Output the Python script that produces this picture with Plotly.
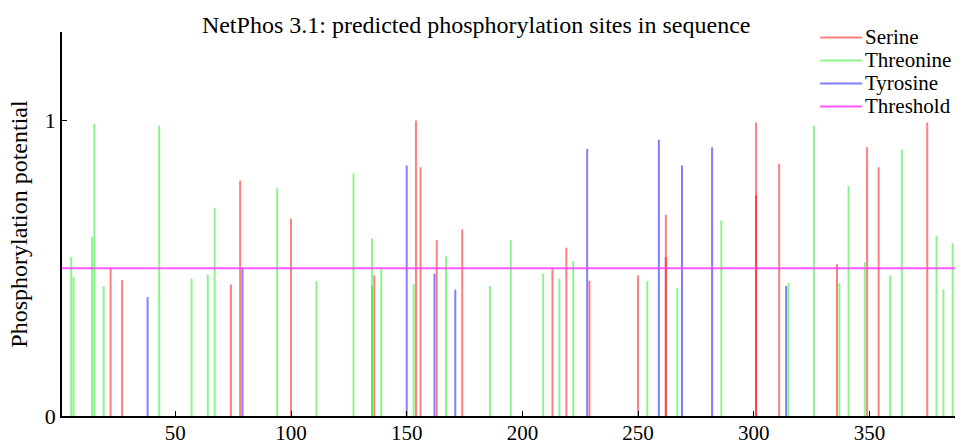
import plotly.graph_objects as go

# ---- data ----
seq_length = 387
threshold = 0.5

serine_pos = [22, 27, 74, 78, 100, 136, 154, 156, 163, 174, 213, 219, 229, 250,
              262, 262, 301, 301, 311, 336, 349, 354, 375]
serine_val = [0.50, 0.46, 0.445, 0.797, 0.668, 0.476, 1.0, 0.842, 0.595, 0.632, 0.50, 0.57, 0.458, 0.476,
              0.538, 0.681, 0.994, 0.747, 0.854, 0.514, 0.91, 0.842, 0.994]

threonine_pos = [5, 6, 14, 15, 19, 43, 57, 64, 67, 94, 111, 127, 135, 135, 139, 153, 167, 186,
                 195, 209, 216, 222, 254, 267, 286, 315, 326, 337, 341, 348, 359, 364, 379, 382, 386]
threonine_val = [0.538, 0.471, 0.606, 0.989, 0.44, 0.983, 0.465, 0.479, 0.705, 0.772, 0.456, 0.822,
                 0.601, 0.44, 0.50, 0.446, 0.54, 0.44, 0.595, 0.482, 0.465, 0.525, 0.456, 0.434,
                 0.662, 0.45, 0.983, 0.45, 0.779, 0.521, 0.476, 0.902, 0.611, 0.428, 0.585]

tyrosine_pos = [38, 79, 150, 162, 171, 228, 259, 269, 282, 314]
tyrosine_val = [0.403, 0.50, 0.848, 0.482, 0.428, 0.904, 0.935, 0.848, 0.91, 0.44]

x_ticks = [50, 100, 150, 200, 250, 300, 350]
y_ticks = [0, 1]

series_names = ["Serine", "Threonine", "Tyrosine", "Threshold"]
series_colors = ["rgba(255,0,0,0.5)", "rgba(0,230,0,0.45)", "rgba(0,0,255,0.5)", "rgba(255,60,255,0.85)"]

FONT = "Liberation Serif, Times New Roman, serif"


def stems(pos, val):
    xs, ys = [], []
    for p, v in zip(pos, val):
        xs += [p, p, None]
        ys += [0, v, None]
    return xs, ys


fig = go.Figure()
for name, color, pos, val in [
    (series_names[0], series_colors[0], serine_pos, serine_val),
    (series_names[1], series_colors[1], threonine_pos, threonine_val),
    (series_names[2], series_colors[2], tyrosine_pos, tyrosine_val),
]:
    xs, ys = stems(pos, val)
    fig.add_trace(go.Scatter(x=xs, y=ys, mode="lines", name=name,
                             line=dict(color=color, width=2), showlegend=False,
                             hoverinfo="skip"))

fig.add_trace(go.Scatter(x=[1, seq_length], y=[threshold, threshold], mode="lines",
                         name=series_names[3], line=dict(color=series_colors[3], width=2),
                         showlegend=False))

# custom compact legend (matches tight row spacing of original)
legend_rows_y = [0.986, 0.926, 0.866, 0.806]
shapes = []
annotations = []
for name, color, yy in zip(series_names, series_colors, legend_rows_y):
    shapes.append(dict(type="line", xref="paper", yref="paper", x0=0.849, x1=0.896,
                       y0=yy, y1=yy, line=dict(color=color, width=2)))
    annotations.append(dict(text=name, xref="paper", yref="paper", x=0.897, y=yy,
                            xanchor="left", yanchor="middle", showarrow=False,
                            font=dict(family=FONT, size=21, color="black")))

fig.update_layout(
    width=966, height=444,
    margin=dict(l=62, r=11, t=32, b=28),
    paper_bgcolor="white", plot_bgcolor="white",
    title=dict(text="NetPhos 3.1: predicted phosphorylation sites in sequence",
               x=0.4638, xref="paper", xanchor="center", y=0.945, yref="container",
               yanchor="middle", font=dict(family=FONT, size=24, color="black")),
    shapes=shapes, annotations=annotations,
    showlegend=False,
    font=dict(family=FONT, color="black"),
)
fig.update_xaxes(range=[1, seq_length], tickvals=x_ticks, showgrid=False, zeroline=False,
                 automargin=False, ticklabelstandoff=-3,
                 showline=True, linecolor="black", linewidth=1.5, ticks="inside",
                 ticklen=5, tickcolor="black", tickfont=dict(family=FONT, size=21))
fig.update_yaxes(range=[0, 1.3], tickvals=y_ticks, showgrid=False, zeroline=False,
                 automargin=False,
                 showline=True, linecolor="black", linewidth=1.5, ticks="inside",
                 ticklen=5, tickcolor="black", tickfont=dict(family=FONT, size=22),
                 title=dict(text="Phosphorylation potential", standoff=10,
                            font=dict(family=FONT, size=24)))

fig.write_html("out.html", config={"displayModeBar": False},
               post_script="document.body.style.margin='0';")
